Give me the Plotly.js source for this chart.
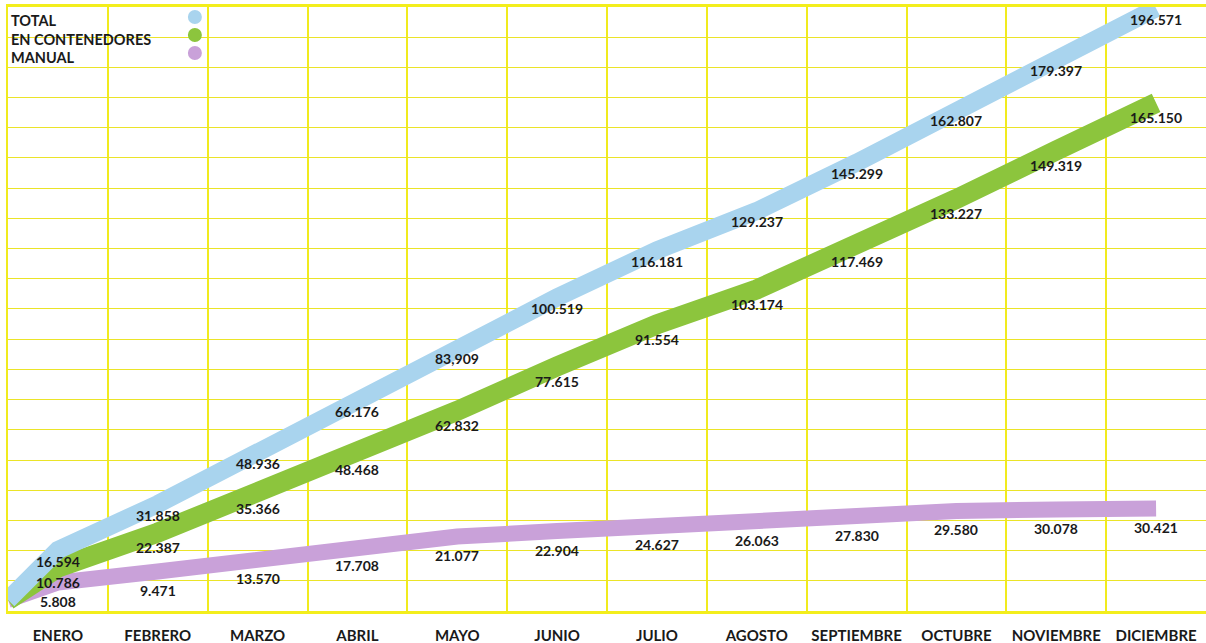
<!DOCTYPE html>
<html>
<head>
<meta charset="utf-8">
<script src="https://cdn.plot.ly/plotly-3.0.1.min.js"></script>
<style>
  html, body { margin: 0; padding: 0; background: #ffffff; }
  #chart { width: 1206px; height: 643px; }
</style>
</head>
<body>
<div id="chart"></div>
<script>
// ---- data ----
const months = ['ENERO', 'FEBRERO', 'MARZO', 'ABRIL', 'MAYO', 'JUNIO', 'JULIO',
                'AGOSTO', 'SEPTIEMBRE', 'OCTUBRE', 'NOVIEMBRE', 'DICIEMBRE'];
const total = [16594, 31858, 48936, 66176, 83909, 100519, 116181, 129237, 145299, 162807, 179397, 196571];
const contenedores = [10786, 22387, 35366, 48468, 62832, 77615, 91554, 103174, 117469, 133227, 149319, 165150];
const manual = [5808, 9471, 13570, 17708, 21077, 22904, 24627, 26063, 27830, 29580, 30078, 30421];
const totalLabels = ['16.594', '31.858', '48.936', '66.176', '83,909', '100.519', '116.181',
                     '129.237', '145.299', '162.807', '179.397', '196.571'];
const contLabels = ['10.786', '22.387', '35.366', '48.468', '62.832', '77.615', '91.554',
                    '103.174', '117.469', '133.227', '149.319', '165.150'];
const manualLabels = ['5.808', '9.471', '13.570', '17.708', '21.077', '22.904', '24.627',
                      '26.063', '27.830', '29.580', '30.078', '30.421'];
const seriesNames = ['TOTAL', 'EN CONTENEDORES', 'MANUAL'];
const startValue = 0;   // all series start from zero at the beginning of the year

// ---- styling ----
const colors = ['#a9d4ee', '#8cc53d', '#c9a1d9'];
const widths = [18, 20, 16];
const FONT = 'Lato, "Open Sans", sans-serif';
const TXT = '#1a1a1a';

const xPos = months.map((_, i) => i + 1);
const xs = [0.5].concat(xPos);

function lineTrace(vals, idx) {
  return {
    type: 'scatter', mode: 'lines',
    x: xs, y: [startValue].concat(vals),
    line: { color: colors[idx], width: widths[idx], shape: 'linear' },
    name: seriesNames[idx], hoverinfo: 'skip', cliponaxis: true
  };
}
const traces = [lineTrace(manual, 2), lineTrace(contenedores, 1), lineTrace(total, 0)];

const annotations = [];
function addLabels(vals, labels, shift) {
  vals.forEach((v, i) => annotations.push({
    x: xPos[i], y: v, xref: 'x', yref: 'y', text: '<b>' + labels[i] + '</b>', showarrow: false,
    yshift: shift, font: { family: FONT, size: 14, color: TXT, weight: 900 }
  }));
}
addLabels(total, totalLabels, -11);
addLabels(contenedores, contLabels, -15);
addLabels(manual, manualLabels, -19);

// legend (text left, coloured dots on the right)
const legY = [0.977, 0.947, 0.917];
const dotY = [0.9834, 0.9536, 0.9238];
seriesNames.forEach((n, i) => annotations.push({
  x: 0, y: legY[i], xref: 'paper', yref: 'paper', xanchor: 'left', yanchor: 'middle',
  xshift: 1, text: '<b>' + n + '</b>', showarrow: false,
  font: { family: FONT, size: 14.5, color: TXT, weight: 900 }
}));

const shapes = [{
  type: 'rect', xref: 'paper', yref: 'paper', x0: 0.0015, x1: 0.162, y0: 0.905, y1: 0.9975,
  fillcolor: '#ffffff', line: { width: 0 }, layer: 'between'
}];
seriesNames.forEach((n, i) => shapes.push({
  type: 'circle', xref: 'paper', yref: 'paper', xsizemode: 'pixel', ysizemode: 'pixel',
  xanchor: 0.156, yanchor: dotY[i], x0: -7, x1: 7, y0: -7, y1: 7,
  fillcolor: colors[i], line: { width: 0 }, layer: 'above'
}));

const layout = {
  width: 1206, height: 643,
  margin: { l: 8, r: 0, t: 7, b: 32 },
  paper_bgcolor: '#ffffff', plot_bgcolor: '#ffffff',
  showlegend: false,
  xaxis: {
    range: [0.5, 12.5], tickmode: 'array', tickvals: xPos,
    ticktext: months.map(m => '<b>' + m + '</b>'),
    showgrid: false, zeroline: false, ticks: '', ticklabelstandoff: 9,
    tickfont: { family: FONT, size: 15, color: TXT, weight: 900 },
    showline: true, linecolor: '#f3ee1c', linewidth: 3, mirror: true,
    minor: { tickmode: 'linear', tick0: 0.5, dtick: 1, showgrid: true,
             gridcolor: '#f1eb1e', gridwidth: 2, ticks: '' },
    fixedrange: true
  },
  yaxis: {
    range: [-3654, 197000], tick0: -3654, dtick: 10033, tickmode: 'linear',
    showgrid: true, gridcolor: '#ebe428', gridwidth: 1,
    showticklabels: false, ticks: '', zeroline: false,
    showline: true, linecolor: '#f1eb1e', linewidth: 2, mirror: true,
    fixedrange: true
  },
  annotations: annotations,
  shapes: shapes
};

Plotly.newPlot('chart', traces, layout, { staticPlot: true, displayModeBar: false });
</script>
</body>
</html>
